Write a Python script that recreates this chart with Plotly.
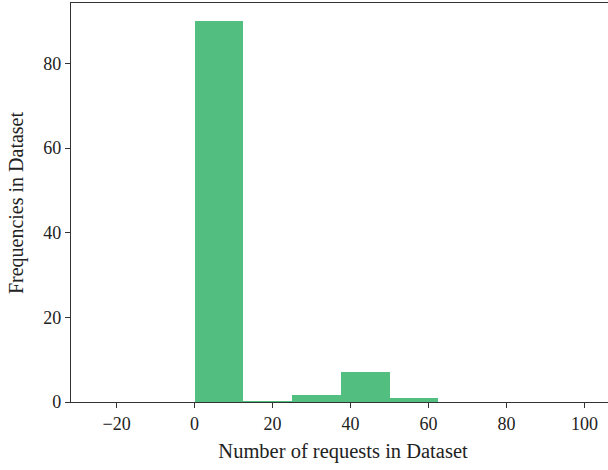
import plotly.graph_objects as go

bin_edges = [0, 12.5, 25, 37.5, 50, 62.5]
frequencies = [90.0, 0.2, 1.7, 7.2, 0.9]
x_ticks = [-20, 0, 20, 40, 60, 80, 100]
y_ticks = [0, 20, 40, 60, 80]

left = bin_edges[:-1]
widths = [b - a for a, b in zip(bin_edges[:-1], bin_edges[1:])]

FONT = "Liberation Serif"
fig = go.Figure(go.Bar(
    x=left, y=frequencies, width=widths, offset=0,
    marker=dict(color="#52be80", line=dict(width=0)),
))

fig.update_layout(
    width=616, height=470,
    margin=dict(l=71, r=1, t=3, b=68, autoexpand=False),
    plot_bgcolor="white", paper_bgcolor="white",
    font=dict(family=FONT, size=19, color="#222"),
    showlegend=False, bargap=0,
)
fig.update_xaxes(
    range=[-31.7, 107.8], tickvals=x_ticks, showgrid=False, zeroline=False,
    showline=True, linecolor="#333", linewidth=1.2, mirror=True,
    ticks="outside", ticklen=5, tickcolor="#333", automargin=False,
    tickfont=dict(size=18),
    title=dict(text="Number of requests in Dataset", standoff=10, font=dict(size=20.5)),
)
fig.update_yaxes(
    range=[0, 94.3], tickvals=y_ticks, showgrid=False, zeroline=False,
    showline=True, linecolor="#333", linewidth=1.2, automargin=False,
    ticks="outside", ticklen=5, tickcolor="#333",
    tickfont=dict(size=18),
)
fig.add_annotation(
    text="Frequencies in Dataset", textangle=-90,
    xref="paper", yref="paper", x=-0.1, y=0.5,
    xanchor="center", yanchor="middle", showarrow=False,
    font=dict(family=FONT, size=20, color="#222"),
)
fig.write_html(
    "out.html",
    config={"displayModeBar": False},
    post_script=(
        "document.body.style.margin='0';document.body.style.overflow='hidden';"
        "document.documentElement.style.overflow='hidden';"
    ),
)
